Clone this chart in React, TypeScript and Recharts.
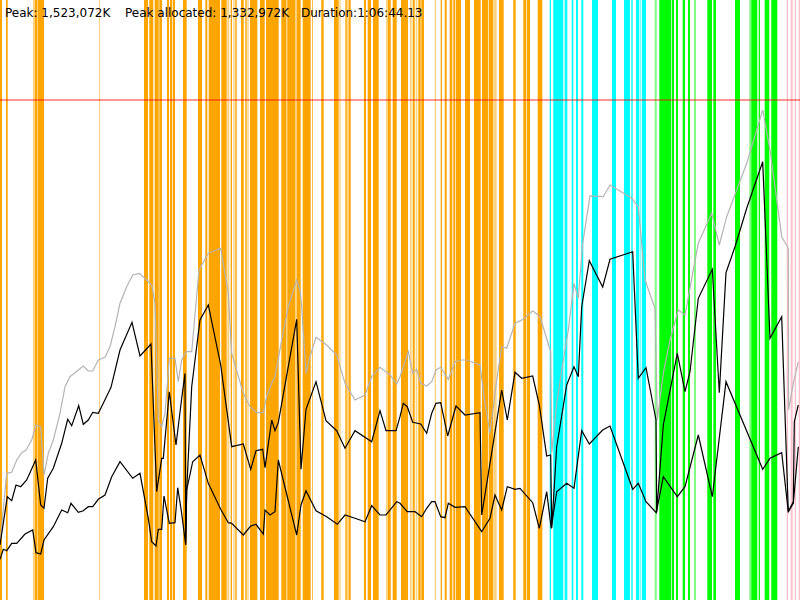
import React from "react";
import { LineChart, Line, XAxis, YAxis, ReferenceArea, ReferenceLine } from "recharts";

// timeline runs 0..800 over the whole run (1:06:44.13); heap values on a 0..600 scale
const T_MAX = 800;
const H_MAX = 600;
const PEAK_LINE = 500;

const peakHeap: [number, number][] = [
  [0, 55], [6.7, 126.7], [11.7, 127.7], [16.7, 140], [21.7, 147.3], [26, 150], [31.7, 160], [36, 175],
  [40.7, 173.3], [44, 125], [48.3, 146.7], [53.3, 160], [60, 186.7], [65, 213.3], [70, 223.3], [83.3, 234],
  [88.3, 229], [92.7, 229], [98.3, 240], [105, 242.7], [110, 253.3], [115, 273.3], [120, 296.7], [126.7, 313.3],
  [132.7, 325], [139.3, 326.7], [146.7, 320], [151.7, 315], [155, 296.7], [156.7, 240], [158.3, 180],
  [161.7, 173.3], [165, 186.7], [169.3, 241.7], [175, 241.7], [178.3, 218.3], [181.7, 240], [186, 248.3],
  [191.7, 248.3], [199, 330], [208.3, 346.7], [220.7, 351.7], [228.3, 306.7], [231.7, 246.7], [243.3, 206.7],
  [250, 193.3], [256.7, 187.3], [263.3, 187.3], [266.7, 203.3], [271.7, 216.7], [275, 223.3], [281.7, 260],
  [288.3, 293.3], [296.7, 320], [300, 310], [301.7, 293.3], [306, 226.7], [310, 243.3], [316, 262.7],
  [326.7, 255], [336.7, 245], [345, 216.7], [355, 200], [365, 205], [371.7, 223.3], [380, 232.7], [390, 225],
  [396.7, 216], [400, 223.3], [408.3, 248.3], [412.7, 226.7], [416.7, 230.7], [420.7, 216.7], [426.7, 214],
  [431.7, 218.3], [436, 230], [440.7, 232.7], [448.3, 220.7], [455, 238.3], [461.7, 240], [466.7, 240],
  [480, 235], [485, 196.7], [490, 166.7], [496.7, 220], [501.7, 253.3], [506.7, 251.7], [515, 276.7],
  [523.3, 280.7], [532.7, 289.3], [540, 283.3], [550.7, 248.3], [551.7, 146.7], [556.7, 196.7], [563.3, 240],
  [568.3, 270], [574, 316.7], [578.3, 301.7], [582.7, 356.7], [590, 404], [603.3, 403.3], [610, 415],
  [631.7, 401.7], [638.3, 393.3], [645, 320], [655, 291.7], [657.3, 180], [663.3, 226.7], [670, 260],
  [678.3, 290], [685, 285], [698.3, 356.7], [711.7, 386.7], [719.3, 355], [726.7, 383.3], [746.7, 436.7],
  [762.7, 490], [770, 450], [781.7, 363.3], [788.3, 351.7], [788.6, 190], [793.3, 216.7], [798.3, 238.3],
];

const heapBefore: [number, number][] = [
  [0, 55], [7.3, 103.3], [11.7, 99.3], [16, 115], [20.7, 113.3], [26.7, 120], [35.7, 140], [40.7, 95],
  [44, 91.7], [47.7, 121.7], [53.3, 131.7], [61.7, 156.7], [67.7, 180.7], [71.7, 174.3], [78.7, 194.3],
  [83.3, 175.7], [88.3, 180], [92.7, 187.7], [98.3, 186.7], [103.3, 196.7], [111, 212.7], [120, 250],
  [132, 277.7], [140, 244], [151, 256], [156.7, 108.3], [161.7, 141.7], [163.3, 141.7], [169.3, 208.3],
  [176, 155], [181.7, 201.7], [185, 226.7], [185.7, 56.7], [186.7, 110], [191.7, 213.3], [200, 280],
  [208.3, 295], [220.7, 235], [231.7, 153.3], [243.3, 156], [250.7, 130.7], [256, 149.3], [262.7, 150.7],
  [265, 132.3], [271.7, 180], [275, 169.3], [278.3, 177.3], [296.7, 280.7], [301, 130.7], [306, 190.7],
  [316, 218.3], [326, 179.3], [336.7, 169.3], [345, 151.7], [355, 169.3], [371.7, 158.3], [380, 189.3],
  [386, 169.3], [396, 169.3], [400, 183.3], [403.3, 196.7], [407.3, 193.3], [412.7, 177.7], [420.7, 176],
  [426.7, 166.7], [431.7, 186.7], [436, 196.7], [440.7, 197.3], [447.7, 164], [456, 194], [465, 185],
  [480, 187.3], [481.7, 85], [490, 136.7], [501.7, 210], [507.3, 180], [515, 227.7], [521.7, 221.7],
  [532.7, 224], [539.3, 195], [546.7, 144], [550.7, 145], [551.7, 71.7], [556.7, 153.3], [566.7, 215],
  [574, 233.3], [578.3, 223.3], [581.7, 293.3], [589.3, 339.3], [602.7, 313], [610, 340.7], [632.7, 348.3],
  [638.3, 221.7], [646, 232.3], [656, 180], [656.7, 88.3], [663.3, 175], [677.3, 246.7], [685, 208.3],
  [690, 228.3], [698.3, 301.7], [712.3, 330.7], [719.3, 207.3], [726, 327.3], [735, 353.3], [746.7, 391.7],
  [762.7, 438.3], [770, 261.7], [781.7, 283.3], [788.3, 88.3], [793.3, 98.3], [794.3, 178.3], [798.3, 195],
];

const heapAfter: [number, number][] = [
  [0, 40.7], [3.3, 50.7], [6.7, 49.3], [11.7, 56.7], [16.7, 56.7], [25, 66], [32.7, 70], [36, 47.3],
  [40.7, 46], [44, 60], [53.3, 73.3], [61.7, 90], [67.7, 87.3], [71, 96.7], [78.3, 87.7], [83.3, 89.3],
  [88.3, 93.3], [92.7, 93.3], [98.3, 100.7], [105, 105], [111.7, 123.3], [120, 138.3], [132.7, 121.7],
  [140, 126.7], [148.3, 81.7], [151.7, 58.3], [156, 54], [158.3, 70.7], [161.7, 70.7], [164, 104],
  [169.3, 76.7], [175, 77.3], [177.7, 112.3], [181.7, 86.7], [185.7, 55], [186.7, 110], [192.7, 138.3],
  [200, 145], [208.3, 116.7], [220.7, 90.7], [228.3, 77.3], [231.7, 76.7], [243.3, 65], [250.7, 74],
  [256, 75.7], [263.3, 66], [265, 90], [270, 85], [275, 88.3], [278.3, 140], [296.7, 65], [301, 95],
  [306, 109.3], [316, 89.3], [326.7, 83.3], [337.3, 75.7], [345, 85], [355, 81.7], [365, 78.3],
  [371.7, 94.3], [380, 85], [386, 85], [396.7, 98.3], [400, 96.7], [407.3, 88.3], [415, 88.3],
  [421.7, 83.3], [426.7, 91.7], [431.7, 98.3], [435, 98.3], [440.7, 83.3], [445, 82.3], [448.3, 96.7],
  [455, 92.7], [465, 93.3], [481.7, 68.3], [490, 81.7], [495, 105], [501.7, 90], [507.3, 113.3],
  [515, 110.7], [520, 111.7], [532.7, 97.3], [539.3, 71.7], [546.7, 108.3], [551.2, 71.7], [556.7, 108.3],
  [566.7, 116.7], [574, 111.7], [581.7, 169.3], [589.3, 156], [602.7, 170], [610, 174], [632.7, 110.7],
  [638.3, 116.7], [646, 98.3], [656.3, 87.3], [663.3, 123.3], [677.3, 103.3], [685, 113.3], [698.3, 165],
  [712.3, 103.3], [726, 218.3], [762.7, 130.7], [770, 141.7], [781.7, 147.3], [788.3, 88.3], [793.3, 96.7],
  [798.3, 153.3],
];

// pause spans [start, end] on the timeline, grouped by kind
const youngPauses: [number, number][] = [
  [0, 2], [6, 7.7], [35, 37.5], [38, 44], [144, 148], [149.3, 153.3], [154.7, 158.7], [159.3, 162],
  [167, 169], [170, 172], [172.7, 175], [183, 186.7], [198, 202], [205.3, 207.3], [208.7, 220],
  [221.3, 226.7], [230.7, 232], [235.3, 236.7], [241, 243.7], [245.3, 246.7], [250, 257.3], [260, 264.7],
  [266, 278.7], [281.3, 286], [287.3, 295], [296.7, 300.7], [302.7, 310.7], [312, 312.7], [321.3, 323.7],
  [334, 338.7], [345.3, 346.7], [348.7, 350.7], [364, 366], [367.7, 371], [373, 378.7], [388, 390.7],
  [392.7, 396.7], [401, 408], [412.7, 414.7], [418.3, 420.7], [421.3, 424], [440.7, 442], [444.7, 446.7],
  [449.7, 452.3], [453.3, 455.3], [456, 461], [465, 470], [474, 480.7], [482, 488], [488.7, 493.3],
  [499, 503.7], [513.3, 515.7], [523.3, 526], [526.7, 530], [537.7, 542.3],
];
const youngPausesShort: [number, number][] = [
  [33, 35], [99, 100], [227.3, 229.3], [233.3, 234.7], [247.3, 248.7], [286, 287.3], [295, 296.7],
  [339.3, 340.7], [346.7, 348.7], [386, 388], [410, 411.7], [415.7, 417.3], [434.7, 436], [493.7, 496.7],
];
const remarkPauses: [number, number][] = [
  [549.7, 551], [553.3, 563.3], [564.7, 567.3], [571.7, 573.3], [576, 578], [581.3, 583.3], [592, 598],
  [612, 616], [624, 630], [631.3, 632.7], [636, 639.3], [642, 646],
];
const remarkPausesShort: [number, number][] = [[640, 641.3]];
const mixedPauses: [number, number][] = [
  [659.3, 671.3], [672, 674], [676, 678], [682.7, 685], [688, 690], [707.3, 712], [713.3, 716],
  [735, 740], [751.3, 757.3], [758.7, 760], [764.7, 769.3], [771.3, 777.3],
];
const mixedPausesShort: [number, number][] = [[654.7, 656.7], [694, 696], [749.3, 751.3]];
const fullPauses: [number, number][] = [[786.7, 788], [790.7, 792.7], [794.7, 796], [798.7, 800]];

const toPoints = (rows: [number, number][]) => rows.map(([t, v]) => ({ t, v }));

const bands = [
  { spans: youngPauses, fill: "#ffa500", opacity: 1 },
  { spans: youngPausesShort, fill: "#ffa500", opacity: 0.5 },
  { spans: remarkPauses, fill: "#00ffff", opacity: 1 },
  { spans: remarkPausesShort, fill: "#00ffff", opacity: 0.5 },
  { spans: mixedPauses, fill: "#00ff00", opacity: 1 },
  { spans: mixedPausesShort, fill: "#00ff00", opacity: 0.5 },
  { spans: fullPauses, fill: "#ffc0cb", opacity: 1 },
];

const headerFont = { fontFamily: "'DejaVu Sans', sans-serif", fontSize: 12, fill: "#000" };

export default function App() {
  return (
    <div style={{ position: "absolute", left: 0, top: 0, width: 800, height: 600, background: "#fff" }}>
      <LineChart width={800} height={600} margin={{ top: 0, right: 0, bottom: 0, left: 0 }}>
        <XAxis dataKey="t" type="number" domain={[0, T_MAX]} hide allowDataOverflow />
        <YAxis type="number" domain={[0, H_MAX]} hide allowDataOverflow />
        {bands.flatMap((b, bi) =>
          b.spans.map(([a, z], i) => (
            <ReferenceArea
              key={`${bi}-${i}`}
              x1={a}
              x2={z}
              fill={b.fill}
              fillOpacity={b.opacity}
              stroke="none"
            />
          ))
        )}
        <ReferenceLine y={PEAK_LINE} stroke="#ff0000" strokeOpacity={0.55} strokeWidth={1.5} />
        <Line data={toPoints(peakHeap)} dataKey="v" type="linear" stroke="#b4b4b4" strokeWidth={1.2} dot={false} isAnimationActive={false} />
        <Line data={toPoints(heapBefore)} dataKey="v" type="linear" stroke="#000" strokeWidth={1.2} dot={false} isAnimationActive={false} />
        <Line data={toPoints(heapAfter)} dataKey="v" type="linear" stroke="#000" strokeWidth={1.2} dot={false} isAnimationActive={false} />
      </LineChart>
      <svg width={800} height={30} style={{ position: "absolute", left: 0, top: 0 }}>
        <text x={5} y={17} {...headerFont}>Peak: 1,523,072K</text>
        <text x={125} y={17} {...headerFont}>Peak allocated: 1,332,972K</text>
        <text x={301} y={17} {...headerFont}>Duration:1:06:44.13</text>
      </svg>
    </div>
  );
}
